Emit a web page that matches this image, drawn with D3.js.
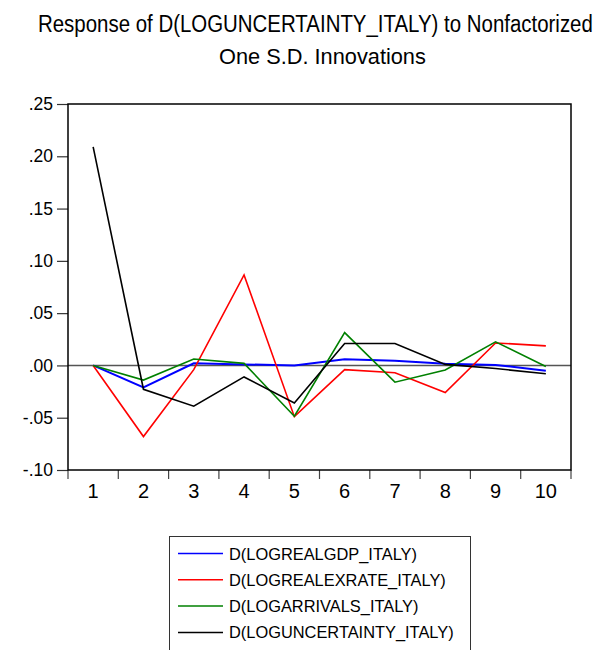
<!DOCTYPE html>
<html>
<head>
<meta charset="utf-8">
<script src="https://cdn.jsdelivr.net/npm/d3@7"></script>
<style>
  html, body { margin: 0; padding: 0; background: #fff; }
  svg { display: block; font-family: "Liberation Sans", Arial, sans-serif; }
</style>
</head>
<body>
<svg id="chart" width="611" height="650"></svg>
<script>
// Impulse-response horizons
const periods = [1, 2, 3, 4, 5, 6, 7, 8, 9, 10];

// Responses of D(LOGUNCERTAINTY_ITALY) to each shock
const gdpResp      = [0.000, -0.021, 0.002, 0.001, 0.000, 0.006, 0.0045, 0.0017, 0.0005, -0.005];
const exrateResp   = [0.000, -0.068, -0.004, 0.0866, -0.049, -0.004, -0.007, -0.026, 0.0215, 0.0187];
const arrivalsResp = [0.000, -0.014, 0.0062, 0.002, -0.0486, 0.0314, -0.016, -0.0043, 0.0225, -0.001];
const uncertResp   = [0.209, -0.0228, -0.039, -0.011, -0.036, 0.0209, 0.021, 0.001, -0.003, -0.008];

const seriesNames = [
  "D(LOGREALGDP_ITALY)",
  "D(LOGREALEXRATE_ITALY)",
  "D(LOGARRIVALS_ITALY)",
  "D(LOGUNCERTAINTY_ITALY)"
];
const seriesColors = ["#0000ff", "#ff0000", "#008000", "#000000"];
const seriesValues = [gdpResp, exrateResp, arrivalsResp, uncertResp];

const yTicks = [-0.10, -0.05, 0.00, 0.05, 0.10, 0.15, 0.20, 0.25];

const svg = d3.select("#chart");
const plot = { left: 68, right: 571, top: 104, bottom: 470 };

const x = d3.scaleBand().domain(periods).range([plot.left, plot.right]);
const y = d3.scaleLinear().domain([-0.10, 0.25]).range([plot.bottom, plot.top]);

// Condensed text: draw at full size, then squeeze horizontally to a given width
function narrowText(parent, str, x0, y0, size, width) {
  const g = parent.append("g");
  const t = g.append("text").attr("x", 0).attr("y", 0)
    .attr("font-size", size).attr("fill", "#000").text(str);
  const natural = t.node().getComputedTextLength();
  g.attr("transform", `translate(${x0},${y0}) scale(${width / natural},1)`);
  return t;
}

// Title
narrowText(svg, "Response of D(LOGUNCERTAINTY_ITALY) to Nonfactorized", 38, 31.5, 23, 555);
narrowText(svg, "One S.D. Innovations", 219, 64, 22.5, 207);

// Y axis with EViews-style labels (no leading zero, ASCII minus)
const fmt = v => d3.format(".2f")(v).replace("\u2212", "-").replace(/^(-?)0\./, "$1.");
const yAxis = svg.append("g")
  .attr("transform", `translate(${plot.left},0)`)
  .call(d3.axisLeft(y).tickValues(yTicks).tickFormat(fmt).tickSize(11).tickPadding(4));
yAxis.select(".domain").remove();
yAxis.selectAll(".tick line").attr("stroke", "#333").attr("stroke-width", 1.2);
yAxis.selectAll(".tick text")
  .attr("font-size", 17.5).attr("font-family", "'Liberation Sans', Arial, sans-serif")
  .attr("fill", "#000");

// X axis: ticks at band boundaries, labels at band centres
const edges = periods.map(p => x(p)).concat([x(periods[periods.length - 1]) + x.bandwidth()]);
svg.append("g").selectAll("line")
  .data(edges).join("line")
  .attr("x1", d => d).attr("x2", d => d)
  .attr("y1", plot.bottom).attr("y2", plot.bottom + 9)
  .attr("stroke", "#444").attr("stroke-width", 1.2);

const xAxis = svg.append("g")
  .attr("transform", `translate(0,${plot.bottom})`)
  .call(d3.axisBottom(x).tickSize(0).tickPadding(14));
xAxis.select(".domain").remove();
xAxis.selectAll(".tick text")
  .attr("font-size", 20).attr("font-family", "'Liberation Sans', Arial, sans-serif")
  .attr("fill", "#000");

// Zero reference line
svg.append("line")
  .attr("x1", plot.left).attr("x2", plot.right)
  .attr("y1", y(0)).attr("y2", y(0))
  .attr("stroke", "#555").attr("stroke-width", 1.5);

// Response lines
const line = d3.line()
  .x((d, i) => x(periods[i]) + x.bandwidth() / 2)
  .y(d => y(d));

svg.append("g").selectAll("path")
  .data(seriesValues).join("path")
  .attr("d", d => line(d))
  .attr("fill", "none")
  .attr("stroke", (d, i) => seriesColors[i])
  .attr("stroke-width", (d, i) => i === 0 ? 2 : 1.6)
  .attr("stroke-linejoin", "miter");

// Plot frame
svg.append("rect")
  .attr("x", plot.left).attr("y", plot.top)
  .attr("width", plot.right - plot.left).attr("height", plot.bottom - plot.top)
  .attr("fill", "none").attr("stroke", "#000").attr("stroke-width", 1.5);

// Legend
const legend = svg.append("g");
legend.append("rect")
  .attr("x", 169.5).attr("y", 536.5)
  .attr("width", 301).attr("height", 120)
  .attr("fill", "#fff").attr("stroke", "#333").attr("stroke-width", 1);
const rows = legend.selectAll("g.row")
  .data(seriesNames).join("g")
  .attr("class", "row")
  .attr("transform", (d, i) => `translate(0,${553.5 + i * 26.3})`);
rows.append("line")
  .attr("x1", 178).attr("x2", 223)
  .attr("stroke", (d, i) => seriesColors[i]).attr("stroke-width", 1.5);
rows.append("text")
  .attr("x", 229).attr("y", 6)
  .attr("font-size", 16.4)
  .attr("fill", "#000")
  .text(d => d);
</script>
</body>
</html>
